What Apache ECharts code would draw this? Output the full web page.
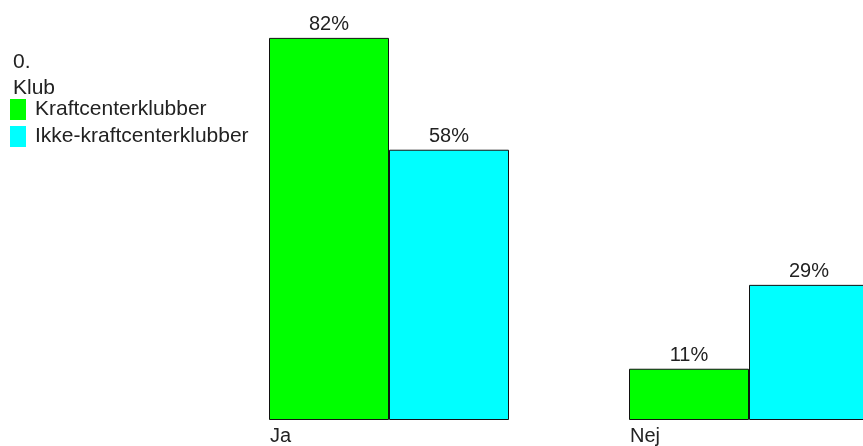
<!DOCTYPE html>
<html>
<head>
<meta charset="utf-8">
<script src="https://cdn.jsdelivr.net/npm/echarts@6/dist/echarts.min.js"></script>
<style>html,body{margin:0;padding:0;background:#fff}#c{width:863px;height:446px}</style>
</head>
<body>
<div id="c"></div>
<script>
const categories = ['Ja', 'Nej'];
const seriesNames = ['Kraftcenterklubber', 'Ikke-kraftcenterklubber'];
const kraftValues = [82, 11];
const ikkeValues = [58, 29];
const legendTitle = '0.\nKlub';

const FONT = 'Liberation Sans';
const chart = echarts.init(document.getElementById('c'));
const labelCfg = {
  show: true, position: 'top', distance: 3,
  formatter: '{c}%', color: '#222', fontFamily: FONT, fontSize: 20
};
chart.setOption({
  animation: false,
  backgroundColor: '#fff',
  title: {
    text: legendTitle, left: 8, top: 44,
    textStyle: { fontFamily: FONT, fontSize: 21, fontWeight: 'normal', color: '#222', lineHeight: 26 }
  },
  legend: {
    orient: 'vertical', left: 5, top: 94, itemWidth: 16, itemHeight: 21, itemGap: 6,
    icon: 'rect', selectedMode: false,
    itemStyle: { borderWidth: 0 },
    textStyle: { fontFamily: FONT, fontSize: 21, color: '#222', padding: [3, 0, 0, 4] },
    data: seriesNames
  },
  grid: { left: 209, right: -66, top: -46, bottom: 26, containLabel: false, outerBoundsMode: 'none' },
  xAxis: {
    type: 'category', data: categories,
    axisLine: { show: false }, axisTick: { show: false },
    axisLabel: {
      margin: 6, fontFamily: FONT, fontSize: 20, color: '#222',
      formatter: '{a|{value}}',
      rich: { a: { width: 238, align: 'left', fontFamily: FONT, fontSize: 20, color: '#222' } }
    }
  },
  yAxis: { type: 'value', min: 0, max: 100, show: false, splitLine: { show: false } },
  series: [
    { name: seriesNames[0], type: 'bar', data: kraftValues, barWidth: 120, barGap: '0%',
      itemStyle: { color: '#00ff00', borderColor: '#111', borderWidth: 1 }, label: labelCfg },
    { name: seriesNames[1], type: 'bar', data: ikkeValues, barWidth: 120,
      itemStyle: { color: '#00ffff', borderColor: '#111', borderWidth: 1 }, label: labelCfg }
  ]
});
</script>
</body>
</html>
